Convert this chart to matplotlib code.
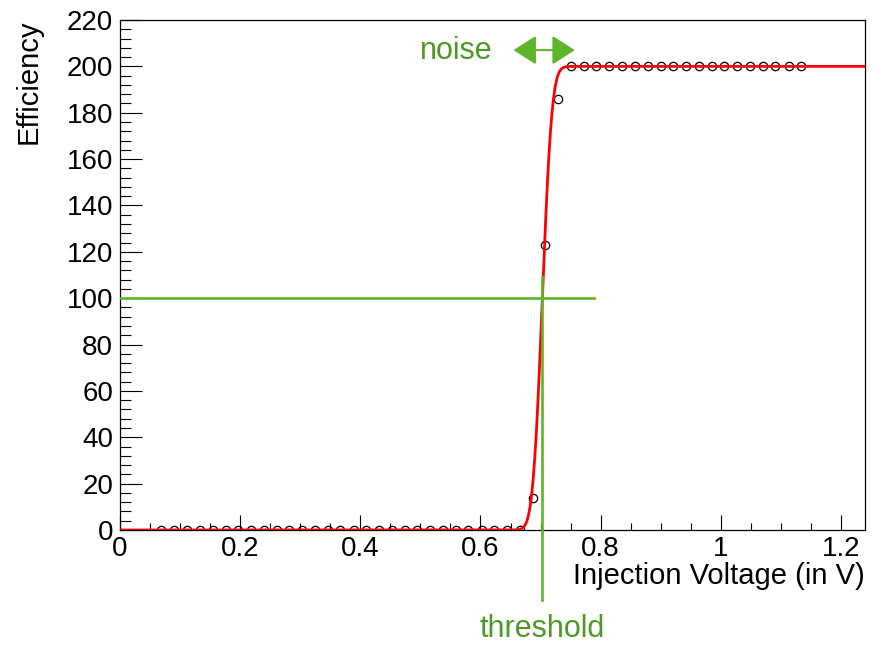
import math
import numpy as np
import matplotlib
matplotlib.use("Agg")
import matplotlib.pyplot as plt
from matplotlib.ticker import FixedLocator, MultipleLocator

plt.rcParams["font.family"] = ["Liberation Sans", "DejaVu Sans"]

# measured points (injection voltage in V, efficiency)
voltage = [0.069, 0.090, 0.112, 0.133, 0.154, 0.176, 0.197, 0.218, 0.239, 0.261,
           0.282, 0.303, 0.325, 0.346, 0.367, 0.389, 0.410, 0.431, 0.452, 0.474,
           0.495, 0.516, 0.538, 0.559, 0.580, 0.602, 0.623, 0.644, 0.665, 0.687,
           0.708, 0.729, 0.750, 0.772, 0.793, 0.814, 0.836, 0.857, 0.878, 0.900,
           0.921, 0.942, 0.963, 0.985, 1.006, 1.027, 1.049, 1.070, 1.091, 1.113,
           1.134]
efficiency = [0] * 29 + [14, 123, 186] + [200] * 19

# s-curve fit parameters
fit_mu = 0.703
fit_sigma = 0.0125
fit_plateau = 200

x_ticks = [0, 0.2, 0.4, 0.6, 0.8, 1.0, 1.2]
x_ticklabels = ["0", "0.2", "0.4", "0.6", "0.8", "1", "1.2"]
y_ticks = [0, 20, 40, 60, 80, 100, 120, 140, 160, 180, 200, 220]
y_ticklabels = [str(v) for v in y_ticks]

green = "#5db52a"
green_text = "#4c9a23"

fig = plt.figure(figsize=(8.75, 6.45), dpi=100)
ax = fig.add_axes([120 / 875, 1 - 530 / 645, 745 / 875, 510 / 645])

# data points
ax.plot(voltage, efficiency, linestyle="none", marker="o", markersize=6,
        markerfacecolor="none", markeredgecolor="black", markeredgewidth=0.9,
        zorder=3)

# fit function
xf = np.linspace(0, 1.24, 1000)
erf = np.vectorize(math.erf)
yf = fit_plateau / 2 * (1 + erf((xf - fit_mu) / (math.sqrt(2) * fit_sigma)))
ax.plot(xf, yf, color="red", linewidth=2.0, zorder=4)

# threshold marks
ax.plot([0, 0.789], [fit_plateau / 2, fit_plateau / 2], color=green,
        linewidth=1.9, zorder=5)
ax.plot([fit_mu, fit_mu], [109, -30], color=green, linewidth=1.9,
        clip_on=False, zorder=5)
ax.text(fit_mu, -46.3, "threshold", color=green_text, fontsize=22,
        ha="center", va="baseline")

# noise arrow
ax.annotate("", xy=(0.655, 207), xytext=(0.757, 207),
            arrowprops=dict(arrowstyle="<|-|>,head_length=14,head_width=9",
                            color=green, linewidth=1.5, shrinkA=0, shrinkB=0,
                            mutation_scale=1))
ax.text(0.559, 203, "noise", color=green_text, fontsize=22,
        ha="center", va="baseline")

ax.set_xlim(0, 1.24)
ax.set_ylim(0, 220)

ax.xaxis.set_major_locator(FixedLocator(x_ticks))
ax.set_xticklabels(x_ticklabels)
ax.xaxis.set_minor_locator(MultipleLocator(0.05))
ax.yaxis.set_major_locator(FixedLocator(y_ticks))
ax.set_yticklabels(y_ticklabels)
ax.yaxis.set_minor_locator(MultipleLocator(4))

ax.tick_params(axis="both", which="both", direction="in", top=False,
               right=False, width=0.8, labelsize=20, color="black")
ax.tick_params(axis="x", which="major", length=11, pad=4)
ax.tick_params(axis="x", which="minor", length=5)
ax.tick_params(axis="y", which="major", length=16, pad=5)
ax.tick_params(axis="y", which="minor", length=8)

for s in ax.spines.values():
    s.set_linewidth(0.9)

ax.set_xlabel("Injection Voltage (in V)", fontsize=21, loc="right")
ax.xaxis.set_label_coords(1.0, (530 - 561.5) / 510)
ax.set_ylabel("Efficiency", fontsize=21, loc="top")
ax.yaxis.set_label_coords((43 - 120) / 745, 1.0)

fig.savefig("out.png", dpi=100)
